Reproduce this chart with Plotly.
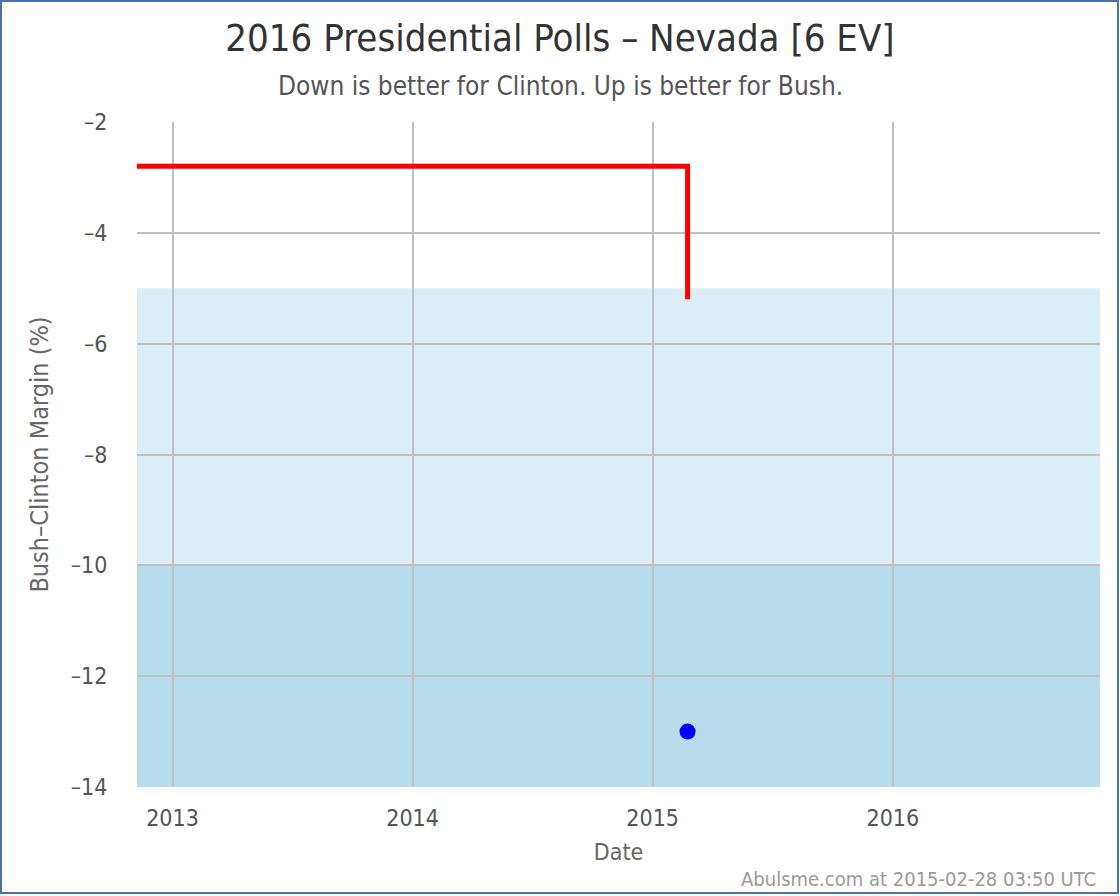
import plotly.graph_objects as go

# Data
avg_dates = ["2012-11-08", "2015-02-23"]
avg_margin = [-2.8, -5.2]
poll_dates = ["2015-02-23"]
poll_margin = [-13.0]

x_range = ["2012-11-08", "2016-11-11"]
y_range = [-14, -2]
x_ticks = ["2013-01-01", "2014-01-01", "2015-01-01", "2016-01-01"]
x_ticklabels = ["2013", "2014", "2015", "2016"]
y_ticks = [-14, -12, -10, -8, -6, -4, -2]
y_ticklabels = ["–14", "–12", "–10", "–8", "–6", "–4", "–2"]

bands = [(-10, -5, "#dbedf6"), (-14, -10, "#b7dcec")]

W, H = 1120, 896
L, R, T, B = 137, 20, 122, 109
PW, PH = W - L - R, H - T - B

def px_x(px):
    return (px - L) / PW

def px_y(py):
    return (H - B - py) / PH

FONT = "DejaVu Sans Condensed, DejaVu Sans"

fig = go.Figure()

fig.add_trace(go.Scatter(
    x=avg_dates, y=avg_margin, mode="lines", line_shape="hv",
    line=dict(color="#ff0000", width=5), showlegend=False, hoverinfo="skip",
))
fig.add_trace(go.Scatter(
    x=poll_dates, y=poll_margin, mode="markers",
    marker=dict(color="#0000ff", size=16), showlegend=False,
))

shapes = []
for y0, y1, col in bands:
    shapes.append(dict(type="rect", xref="paper", yref="y", x0=0, x1=1, y0=y0, y1=y1,
                       fillcolor=col, line=dict(width=0), layer="below"))
shapes.append(dict(type="rect", xref="paper", yref="paper",
                   x0=px_x(1), x1=px_x(W - 2), y0=px_y(1), y1=px_y(H - 3),
                   line=dict(color="#4a72a8", width=2), fillcolor="rgba(0,0,0,0)", layer="above"))

fig.update_layout(
    width=W, height=H,
    margin=dict(l=L, r=R, t=T, b=B),
    paper_bgcolor="white", plot_bgcolor="white",
    font=dict(family=FONT, color="#555555", size=22),
    title=dict(text="2016 Presidential Polls – Nevada [6 EV]", x=0.5, xanchor="center",
               xref="container", yref="container", y=1 - 38 / H, yanchor="middle",
               font=dict(family=FONT, size=38, color="#333333")),
    shapes=shapes,
    annotations=[
        dict(text="Down is better for Clinton. Up is better for Bush.", xref="paper", yref="paper",
             x=px_x(W / 2), y=px_y(86), xanchor="center", yanchor="middle", showarrow=False,
             font=dict(family=FONT, size=26, color="#555555")),
        dict(text="Abulsme.com at 2015-02-28 03:50 UTC", xref="paper", yref="paper",
             x=px_x(1098), y=px_y(879), xanchor="right", yanchor="middle", showarrow=False,
             font=dict(family=FONT, size=20, color="#999999")),
    ],
    xaxis=dict(type="date", range=x_range, tickvals=x_ticks, ticktext=x_ticklabels,
               showgrid=True, gridcolor="#c0c0c0", gridwidth=2, zeroline=False,
               ticks="outside", ticklen=10, tickcolor="rgba(0,0,0,0)",
               tickfont=dict(family=FONT, size=23, color="#555555"),
               title=dict(text="Date", font=dict(family=FONT, size=23, color="#666666"), standoff=14),
               showline=False, fixedrange=True),
    yaxis=dict(range=y_range, tickvals=y_ticks, ticktext=y_ticklabels,
               showgrid=True, gridcolor="#c0c0c0", gridwidth=2, zeroline=False,
               ticks="outside", ticklen=24, tickcolor="rgba(0,0,0,0)",
               tickfont=dict(family=FONT, size=23, color="#555555"),
               title=dict(text="Bush–Clinton Margin (%)", font=dict(family=FONT, size=25, color="#666666"), standoff=14),
               showline=False, fixedrange=True),
)

fig.write_html("out.html", config={"displayModeBar": False},
               post_script="document.body.style.margin='0';document.body.style.overflow='hidden';")
